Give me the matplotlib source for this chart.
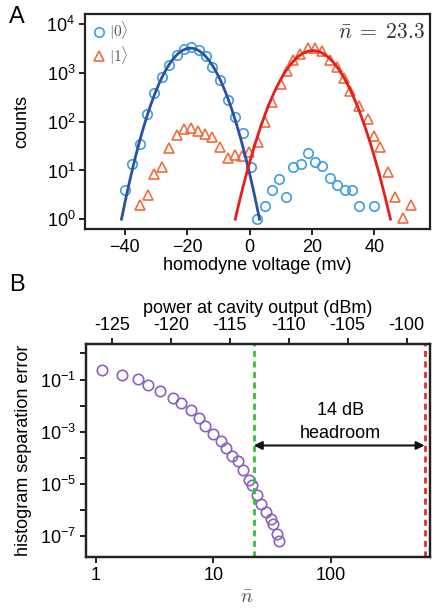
import numpy as np
import matplotlib.pyplot as plt
from matplotlib.ticker import FixedLocator, NullLocator

plt.rcParams['font.family'] = ['Liberation Sans', 'DejaVu Sans']
plt.rcParams['mathtext.fontset'] = 'custom'
plt.rcParams['mathtext.rm'] = 'Liberation Sans'
plt.rcParams['mathtext.it'] = 'Liberation Sans:italic'

# --- panel A: homodyne histograms ---
v0 = [-40, -37.6, -35.3, -32.9, -30.7, -28.0, -25.7, -23.3, -21.0, -18.8, -16.3,
      -13.9, -12.0, -9.5, -7.0, -4.6, -2.1, 0.5, 2.4, 4.8, 7.2, 9.5, 11.6, 14.0,
      16.5, 18.9, 21.1, 23.4, 25.8, 28.1, 30.6, 32.8, 35.2, 40.0]
counts0 = [3.9, 13.6, 34.6, 142, 380, 810, 1470, 2340, 3090, 3480, 2960,
           2240, 1350, 710, 280, 123, 60, 11.7, 1.0, 1.9, 3.9, 6.7, 2.9, 11.7,
           13.6, 22.6, 14.8, 12.6, 6.9, 5.1, 3.9, 3.9, 1.9, 1.9]
v1 = [-35.2, -32.7, -30.8, -28.2, -25.7, -23.2, -21.0, -18.8, -16.4, -14.2, -12.0,
      -9.5, -7.0, -4.6, -2.5, -0.1, 2.6, 5.0, 7.3, 10.1, 12.1, 13.8, 16.3, 18.6,
      21.0, 23.3, 25.8, 28.0, 30.4, 32.2, 35.2, 38.1, 40.0, 42.0, 44.5, 46.8,
      49.3, 51.8]
counts1 = [2.0, 3.1, 8.4, 12, 29.5, 54.6, 72, 76, 65, 55, 48,
           31, 18, 21, 19.4, 24.4, 39, 100, 252, 590, 1100, 1860, 2410, 3320,
           3320, 2760, 1860, 1350, 780, 435, 210, 115, 50, 31, 9.5, 2.9,
           1.05, 2.0]

# gaussian fits: amplitude, centre, sigma, plotted range
fit0 = (3230, -18.95, 5.51, -41.1, 3.2)
fit1 = (2880, 20.3, 6.24, -4.6, 45.2)
nbar_label = 23.3

# --- panel B: separation error vs photon number ---
nbar = [1.14, 1.66, 2.29, 2.78, 3.53, 4.51, 5.30, 6.40, 7.53, 8.52, 9.96,
        11.6, 12.8, 14.4, 16.2, 17.9, 20.0, 21.3, 23.5, 25.2, 27.8, 30.6,
        32.2, 34.4, 36.2]
sep_error = [0.223, 0.148, 0.101, 0.061, 0.035, 0.020, 0.0125, 0.00673, 0.00324,
             0.00174, 0.00081, 4.37e-4, 2.51e-4, 1.16e-4, 7.5e-5, 3.4e-5, 1.48e-5,
             8.9e-6, 3.8e-6, 1.78e-6, 8.5e-7, 4.6e-7, 2.9e-7, 1.23e-7, 6.4e-8]
n_operating = 22
n_limit = 620
dbm_offset = -126.4   # power (dBm) = 10 log10(nbar) + offset
dbm_ticks = [-125, -120, -115, -110, -105, -100]

blue_pts = '#3d9ee0'
orange_pts = '#f26b3a'
blue_fit = '#2f4fa3'
red_fit = '#e61e1e'
purple = '#8a62bd'
spine_c = '#222222'
math_gray = '#555555'

fig = plt.figure(figsize=(4.32, 6.09), dpi=100)
axA = fig.add_axes([85 / 432, 1 - 229 / 609, 345 / 432, 215 / 609])
axB = fig.add_axes([86 / 432, 1 - 557 / 609, 344 / 432, 213 / 609])


def style(ax):
    for s in ax.spines.values():
        s.set_linewidth(1.6)
        s.set_color(spine_c)
    ax.tick_params(direction='out', length=4, width=1.4, color=spine_c,
                   labelsize=13, pad=3)


# panel A
axA.plot(v0, counts0, 'o', ms=6.8, mfc='none', mec=blue_pts, mew=1.2, label=r'$|0\rangle$')
axA.plot(v1, counts1, '^', ms=7.8, mfc='none', mec=orange_pts, mew=1.2, label=r'$|1\rangle$')
for (amp, mu, sig, lo, hi), c in [(fit0, blue_fit), (fit1, red_fit)]:
    xs = np.linspace(lo, hi, 200)
    axA.plot(xs, amp * np.exp(-(xs - mu) ** 2 / (2 * sig ** 2)), color=c, lw=2)
axA.set_yscale('log')
axA.set_xlim(-52.8, 57.9)
axA.set_ylim(10 ** -0.2, 10 ** 4.21)
axA.set_xticks([-40, -20, 0, 20, 40])
axA.yaxis.set_major_locator(FixedLocator([1, 10, 100, 1000, 10000]))
axA.yaxis.set_minor_locator(NullLocator())
axA.set_xlabel('homodyne voltage (mv)', fontsize=13, labelpad=1)
axA.set_ylabel('counts', fontsize=13)
axA.yaxis.set_label_coords(-0.16, 0.5)
style(axA)
leg = axA.legend(loc='upper left', frameon=False, fontsize=11, handletextpad=0.2,
                 handlelength=1.0, borderaxespad=0.1, labelspacing=0.15,
                 borderpad=0.3)
for t in leg.get_texts():
    t.set_math_fontfamily('cm')
    t.set_color(math_gray)
t = axA.text(0.985, 0.965, r'$\bar{n}\;=\;%.1f$' % nbar_label, transform=axA.transAxes,
             ha='right', va='top', fontsize=15.5, color='#333333')
t.set_math_fontfamily('cm')

# panel B
axB.plot(nbar, sep_error, 'o', ms=7.5, mfc='none', mec=purple, mew=1.2)
axB.set_xscale('log')
axB.set_yscale('log')
axB.set_xlim(0.829, 689)
axB.set_ylim(10 ** -7.79, 10 ** 0.36)
axB.xaxis.set_major_locator(FixedLocator([1, 10, 100]))
axB.xaxis.set_minor_locator(NullLocator())
axB.set_xticklabels(['1', '10', '100'])
axB.yaxis.set_major_locator(FixedLocator([10.0 ** k for k in range(-7, 1)]))
axB.yaxis.set_minor_locator(NullLocator())
axB.set_yticklabels(['' if k % 2 == 0 else r'$10^{%d}$' % k for k in range(-7, 1)])
axB.axvline(n_operating, color='#3cba3c', lw=2, ls=(0, (2.2, 1.6)))
axB.axvline(n_limit, color='#e82a2a', lw=2, ls=(0, (2.2, 1.6)))
axB.annotate('', xy=(n_limit, 3e-4), xytext=(n_operating, 3e-4),
             arrowprops=dict(arrowstyle='<|-|>', color='#111111', lw=1.5,
                             mutation_scale=12, shrinkA=0, shrinkB=0))
axB.text(np.sqrt(n_operating * n_limit) * 1.02, 10 ** -2.2, '14 dB', ha='center',
         va='center', fontsize=13)
axB.text(np.sqrt(n_operating * n_limit) * 1.02, 10 ** -3.07, 'headroom', ha='center',
         va='center', fontsize=13)
xl = axB.set_xlabel(r'$\bar{n}$', fontsize=14, color=math_gray)
xl.set_math_fontfamily('cm')
axB.xaxis.set_label_coords((246.7 - 86) / 344, -0.155)
axB.set_ylabel('histogram separation error', fontsize=13)
axB.yaxis.set_label_coords(-0.158, 0.5)
style(axB)

top = axB.twiny()
top.set_xlim(10 * np.log10(0.829) + dbm_offset, 10 * np.log10(689) + dbm_offset)
top.set_xticks(dbm_ticks)
top.set_xticklabels([str(d) for d in dbm_ticks])
top.set_xlabel('power at cavity output (dBm)', fontsize=13, labelpad=3)
style(top)

fig.text(17 / 432, 1 - 17 / 609, 'A', fontsize=17, ha='center', va='center')
fig.text(17 / 432, 1 - 285 / 609, 'B', fontsize=17, ha='center', va='center')

fig.savefig('out.png', dpi=100)
